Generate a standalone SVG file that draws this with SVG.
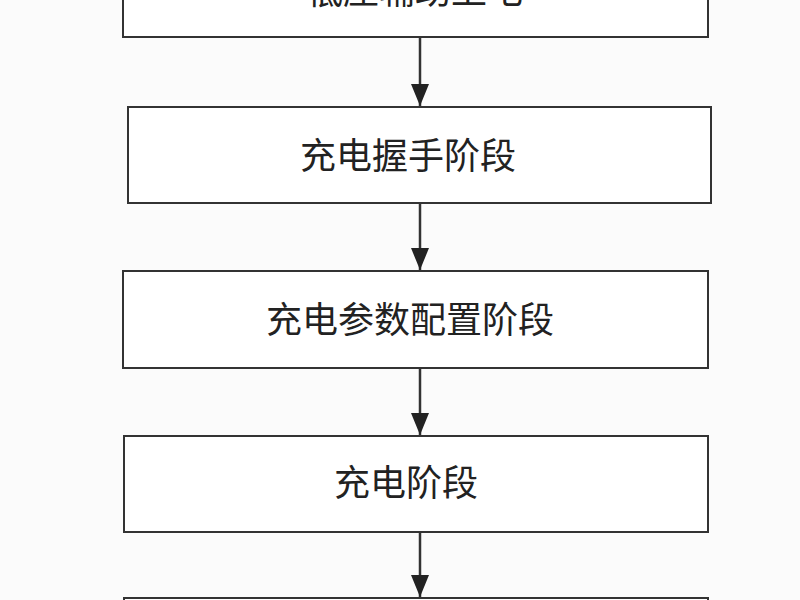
<svg xmlns="http://www.w3.org/2000/svg" width="800" height="600" viewBox="0 0 800 600">
<defs>
<style>
.b{fill:#fff;stroke:#333;stroke-width:2}
.t{font-family:"Noto Sans CJK SC","Noto Sans",sans-serif;font-size:36px;fill:#222;text-anchor:middle}
.c{stroke:#333;stroke-width:2.5;fill:none}
</style>
<marker id="h" viewBox="0 0 10 10" refX="10" refY="5" markerWidth="22" markerHeight="18" orient="auto" markerUnits="userSpaceOnUse" preserveAspectRatio="none"><path d="M0,0 L10,5 L0,10 Z" fill="#222"/></marker>
</defs>
<rect width="800" height="600" fill="#fbfbfb"/>
<g id="n1"><rect class="b" x="123" y="-60" width="585" height="97"/><text class="t" x="415" y="4">低压辅助上电</text></g>
<g id="n2"><rect class="b" x="128" y="107" width="583" height="96"/><text class="t" x="408" y="169">充电握手阶段</text></g>
<g id="n3"><rect class="b" x="123" y="271" width="585" height="97"/><text class="t" x="410" y="333">充电参数配置阶段</text></g>
<g id="n4"><rect class="b" x="124" y="436" width="584" height="96"/><text class="t" x="406" y="496">充电阶段</text></g>
<g id="n5"><rect class="b" x="124" y="598" width="584" height="60"/></g>
<g id="edges">
<line class="c" x1="420" y1="37" x2="420" y2="106" marker-end="url(#h)"/>
<line class="c" x1="420" y1="203" x2="420" y2="270" marker-end="url(#h)"/>
<line class="c" x1="420" y1="368" x2="420" y2="435" marker-end="url(#h)"/>
<line class="c" x1="420" y1="532" x2="420" y2="597" marker-end="url(#h)"/>
</g>
</svg>
